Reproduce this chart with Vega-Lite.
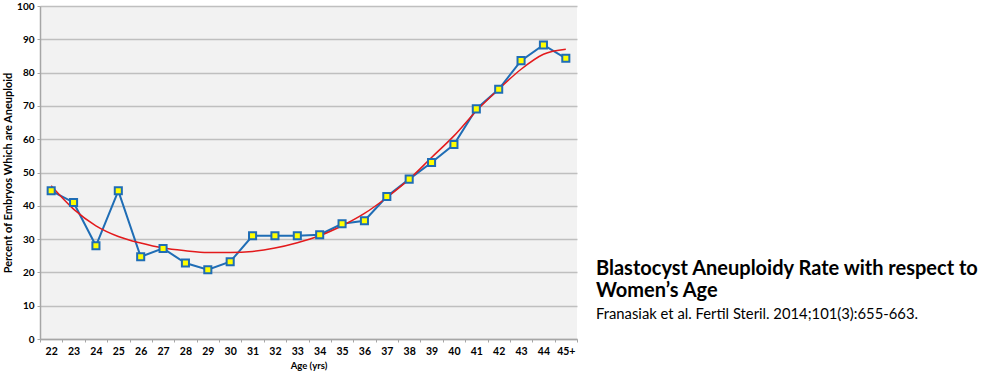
{
  "$schema": "https://vega.github.io/schema/vega-lite/v6.json",
  "width": 537,
  "height": 333,
  "autosize": {"type": "none"},
  "padding": {"left": 40, "top": 6, "right": 422, "bottom": 36},
  "background": "white",
  "config": {
    "font": "Lato",
    "view": {"fill": "#f2f2f2", "stroke": null},
    "axis": {"labelFont": "Lato", "titleFont": "Lato"}
  },
  "title": {
    "text": ["Blastocyst Aneuploidy Rate with respect to", "Women’s Age"],
    "subtitle": "Franasiak et al. Fertil Steril. 2014;101(3):655-663.",
    "anchor": "start",
    "frame": "group",
    "orient": "top",
    "dx": 556,
    "dy": 325,
    "font": "Lato",
    "fontSize": 20,
    "fontWeight": "bold",
    "color": "#000000",
    "lineHeight": 22,
    "subtitleFont": "Lato",
    "subtitleFontSize": 14.8,
    "subtitleColor": "#000000",
    "subtitlePadding": 6
  },
  "datasets": {
    "obs": [
      {"age": "22", "pct": 44.5},
      {"age": "23", "pct": 41},
      {"age": "24", "pct": 28},
      {"age": "25", "pct": 44.5},
      {"age": "26", "pct": 24.7},
      {"age": "27", "pct": 27.2},
      {"age": "28", "pct": 22.8},
      {"age": "29", "pct": 20.8},
      {"age": "30", "pct": 23.2},
      {"age": "31", "pct": 31},
      {"age": "32", "pct": 31},
      {"age": "33", "pct": 31},
      {"age": "34", "pct": 31.3},
      {"age": "35", "pct": 34.6},
      {"age": "36", "pct": 35.5},
      {"age": "37", "pct": 42.8},
      {"age": "38", "pct": 48},
      {"age": "39", "pct": 53},
      {"age": "40", "pct": 58.4},
      {"age": "41", "pct": 69.1},
      {"age": "42", "pct": 75},
      {"age": "43", "pct": 83.6},
      {"age": "44", "pct": 88.3},
      {"age": "45+", "pct": 84.3}
    ],
    "trend": [
      {"age": "22", "pct": 46},
      {"age": "23", "pct": 39},
      {"age": "24", "pct": 34},
      {"age": "25", "pct": 30.8},
      {"age": "26", "pct": 28.8},
      {"age": "27", "pct": 27.3},
      {"age": "28", "pct": 26.5},
      {"age": "29", "pct": 26},
      {"age": "30", "pct": 26},
      {"age": "31", "pct": 26.3},
      {"age": "32", "pct": 27.3},
      {"age": "33", "pct": 28.9},
      {"age": "34", "pct": 31},
      {"age": "35", "pct": 34},
      {"age": "36", "pct": 37.7},
      {"age": "37", "pct": 42.5},
      {"age": "38", "pct": 48},
      {"age": "39", "pct": 54.5},
      {"age": "40", "pct": 61},
      {"age": "41", "pct": 68.5},
      {"age": "42", "pct": 75},
      {"age": "43", "pct": 81},
      {"age": "44", "pct": 85.5},
      {"age": "45+", "pct": 87}
    ]
  },
  "encoding": {
    "x": {
      "field": "age",
      "type": "ordinal",
      "sort": null,
      "scale": {"type": "band", "paddingInner": 0, "paddingOuter": 0},
      "axis": {
        "title": "Age (yrs)",
        "titleFontSize": 9.5,
        "titleFontWeight": "bold",
        "titleColor": "#000000",
        "titlePadding": 4,
        "labelAngle": 0,
        "labelFontSize": 10.5,
        "labelFontWeight": "bold",
        "labelColor": "#000000",
        "labelPadding": 4,
        "tickBand": "extent",
        "tickColor": "#a6a6a6",
        "tickSize": 3,
        "domainColor": "#a6a6a6",
        "domainWidth": 1.5,
        "grid": false
      }
    },
    "y": {
      "field": "pct",
      "type": "quantitative",
      "scale": {"domain": [0, 100]},
      "axis": {
        "title": "Percent of Embryos Which are Aneuploid",
        "titleFontSize": 11,
        "titleFontWeight": "bold",
        "titleColor": "#000000",
        "titlePadding": 3,
        "values": [0, 10, 20, 30, 40, 50, 60, 70, 80, 90, 100],
        "labelOverlap": false,
        "labelFontSize": 10,
        "labelFontWeight": "bold",
        "labelColor": "#000000",
        "labelPadding": 3,
        "tickColor": "#a6a6a6",
        "tickSize": 3,
        "domainColor": "#a6a6a6",
        "domainWidth": 1.5,
        "gridColor": "#bfbfbf",
        "gridWidth": 1.5
      }
    }
  },
  "layer": [
    {
      "data": {"name": "obs"},
      "mark": {"type": "line", "color": "#1f6db5", "strokeWidth": 2}
    },
    {
      "data": {"name": "trend"},
      "mark": {"type": "line", "color": "#e31a1c", "strokeWidth": 1.5, "interpolate": "monotone"}
    },
    {
      "data": {"name": "obs"},
      "mark": {"type": "point", "shape": "square", "filled": false, "fill": "#ffff00", "fillOpacity": 1, "stroke": "#1f6db5", "strokeWidth": 2, "opacity": 1, "size": 50}
    }
  ]
}
